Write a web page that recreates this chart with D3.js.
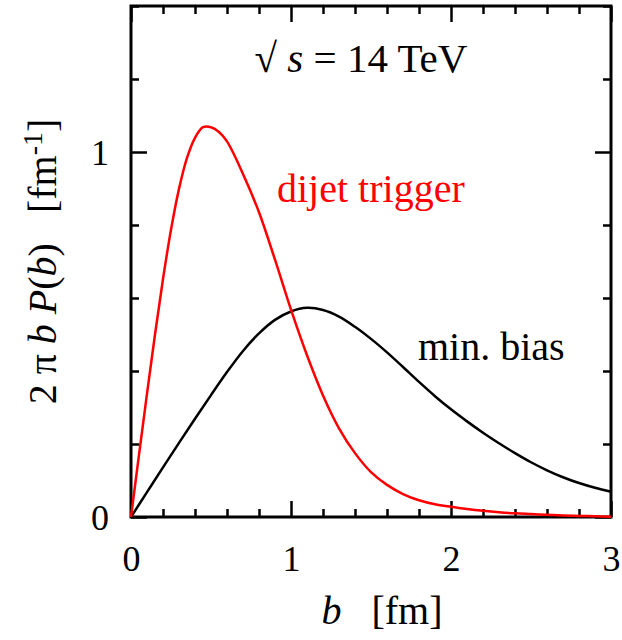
<!DOCTYPE html>
<html>
<head>
  <meta charset="utf-8">
  <title>b distribution</title>
  <script src="https://cdnjs.cloudflare.com/ajax/libs/d3/7.8.5/d3.min.js"></script>
  <style>
    body { margin: 0; background: #fff; }
    svg text { font-family: "Liberation Serif", "Times New Roman", serif; }
  </style>
</head>
<body>
<div id="chart"></div>
<script>
// impact parameter grid [fm] and curves
var bMin = [0, 0.1, 0.2, 0.3, 0.4, 0.5, 0.6, 0.7, 0.8, 0.9, 1.0, 1.1, 1.2, 1.3, 1.4, 1.5,
  1.6, 1.7, 1.8, 1.9, 2.0, 2.1, 2.2, 2.3, 2.4, 2.5, 2.6, 2.7, 2.8, 2.9, 3.0];
var minBias = [0, 0.068, 0.136, 0.203, 0.269, 0.334, 0.397, 0.455, 0.503, 0.540, 0.563, 0.573,
  0.567, 0.549, 0.521, 0.488, 0.451, 0.411, 0.370, 0.331, 0.295, 0.262, 0.231, 0.202, 0.175,
  0.150, 0.128, 0.109, 0.093, 0.080, 0.069];

var bDijet = [0, 0.05, 0.1, 0.15, 0.2, 0.25, 0.3, 0.35, 0.4, 0.45, 0.5, 0.55, 0.6, 0.7, 0.8,
  0.9, 1.0, 1.1, 1.2, 1.3, 1.4, 1.5, 1.6, 1.7, 1.8, 1.9, 2.0, 2.1, 2.2, 2.3, 2.4, 2.5, 2.6,
  2.7, 2.8, 2.9, 3.0];
var dijet = [0, 0.170, 0.338, 0.500, 0.652, 0.787, 0.899, 0.984, 1.039, 1.068, 1.068, 1.055,
  1.029, 0.940, 0.835, 0.705, 0.568, 0.443, 0.333, 0.243, 0.175, 0.123, 0.088, 0.063, 0.046,
  0.035, 0.028, 0.022, 0.017, 0.013, 0.010, 0.008, 0.006, 0.004, 0.003, 0.002, 0.001];

var xMajor = [0, 1, 2, 3];
var yMajor = [0, 1];

var width = 622, height = 640;
var margin = {top: 6, right: 11, bottom: 123, left: 131};

var svg = d3.select('#chart').append('svg')
  .attr('width', width)
  .attr('height', height);

var x = d3.scaleLinear().domain([0, 3]).range([margin.left, width - margin.right]);
var y = d3.scaleLinear().domain([0, 1.4]).range([height - margin.bottom, margin.top]);

var xMinor = d3.range(0, 3.001, 0.2).filter(function(d) { return Math.abs(d - Math.round(d)) > 1e-6; });
var yMinor = d3.range(0, 1.401, 0.2).filter(function(d) { return Math.abs(d - Math.round(d)) > 1e-6; });

function drawTicks(axis, tf) {
  var g = svg.append('g').attr('transform', tf).call(axis);
  g.select('.domain').remove();
  g.selectAll('line').attr('stroke', '#000').attr('stroke-width', 2.5);
  return g;
}

// minor ticks on all four sides
drawTicks(d3.axisBottom(x).tickValues(xMinor).tickSize(-8).tickFormat(''), 'translate(0,' + y(0) + ')');
drawTicks(d3.axisTop(x).tickValues(xMinor).tickSize(-8).tickFormat(''), 'translate(0,' + y(1.4) + ')');
drawTicks(d3.axisLeft(y).tickValues(yMinor).tickSize(-8).tickFormat(''), 'translate(' + x(0) + ',0)');
drawTicks(d3.axisRight(y).tickValues(yMinor).tickSize(-8).tickFormat(''), 'translate(' + x(3) + ',0)');

// major ticks
drawTicks(d3.axisBottom(x).tickValues(xMajor).tickSize(-16).tickPadding(28).tickFormat(d3.format('d')), 'translate(0,' + y(0) + ')');
drawTicks(d3.axisTop(x).tickValues(xMajor).tickSize(-16).tickFormat(''), 'translate(0,' + y(1.4) + ')');
var yl = drawTicks(d3.axisLeft(y).tickValues(yMajor).tickSize(-16).tickPadding(22).tickFormat(d3.format('d')), 'translate(' + x(0) + ',0)');
drawTicks(d3.axisRight(y).tickValues(yMajor).tickSize(-16).tickFormat(''), 'translate(' + x(3) + ',0)');

svg.selectAll('.tick text')
  .attr('font-family', '"Liberation Serif", serif')
  .attr('font-size', 36)
  .attr('fill', '#000');
yl.selectAll('.tick text').attr('dy', '0.34em');

// frame
svg.append('rect')
  .attr('x', x(0))
  .attr('y', y(1.4))
  .attr('width', x(3) - x(0))
  .attr('height', y(0) - y(1.4))
  .attr('fill', 'none')
  .attr('stroke', '#000')
  .attr('stroke-width', 3);

// curves
var line = d3.line()
  .x(function(d) { return x(d[0]); })
  .y(function(d) { return y(Math.max(d[1], 0)); })
  .curve(d3.curveCatmullRom.alpha(0.5));

svg.append('path')
  .datum(d3.zip(bMin, minBias))
  .attr('d', line)
  .attr('fill', 'none')
  .attr('stroke', '#000')
  .attr('stroke-width', 2.5);

svg.append('path')
  .datum(d3.zip(bDijet, dijet))
  .attr('d', line)
  .attr('fill', 'none')
  .attr('stroke', '#ff0000')
  .attr('stroke-width', 2.5);

// annotations
var title = svg.append('text')
  .attr('x', 361)
  .attr('y', 72)
  .attr('text-anchor', 'middle')
  .attr('font-size', 41);
title.append('tspan').text('\u221a ');
title.append('tspan').attr('font-style', 'italic').text('s');
title.append('tspan').text(' = 14 TeV');

svg.append('text')
  .attr('x', 277)
  .attr('y', 202)
  .attr('font-size', 40)
  .attr('fill', '#ff0000')
  .text('dijet trigger');

svg.append('text')
  .attr('x', 418)
  .attr('y', 360)
  .attr('font-size', 40)
  .attr('fill', '#000')
  .text('min. bias');

// axis titles
var xt = svg.append('text')
  .attr('x', 382)
  .attr('y', 624)
  .attr('text-anchor', 'middle')
  .attr('font-size', 40);
xt.append('tspan').attr('font-style', 'italic').text('b');
xt.append('tspan').text('\u00a0\u00a0 [fm]');

var yt = svg.append('text')
  .attr('transform', 'translate(56,' + ((y(0) + y(1.4)) / 2) + ') rotate(-90)')
  .attr('text-anchor', 'middle')
  .attr('font-size', 40);
yt.append('tspan').text('2 \u03c0 ');
yt.append('tspan').attr('font-style', 'italic').text('b P');
yt.append('tspan').text('(');
yt.append('tspan').attr('font-style', 'italic').text('b');
yt.append('tspan').text(')\u00a0\u00a0 [fm');
yt.append('tspan').attr('dy', -14).attr('font-size', 28).text('-1');
yt.append('tspan').attr('dy', 14).text(']');
</script>
</body>
</html>
